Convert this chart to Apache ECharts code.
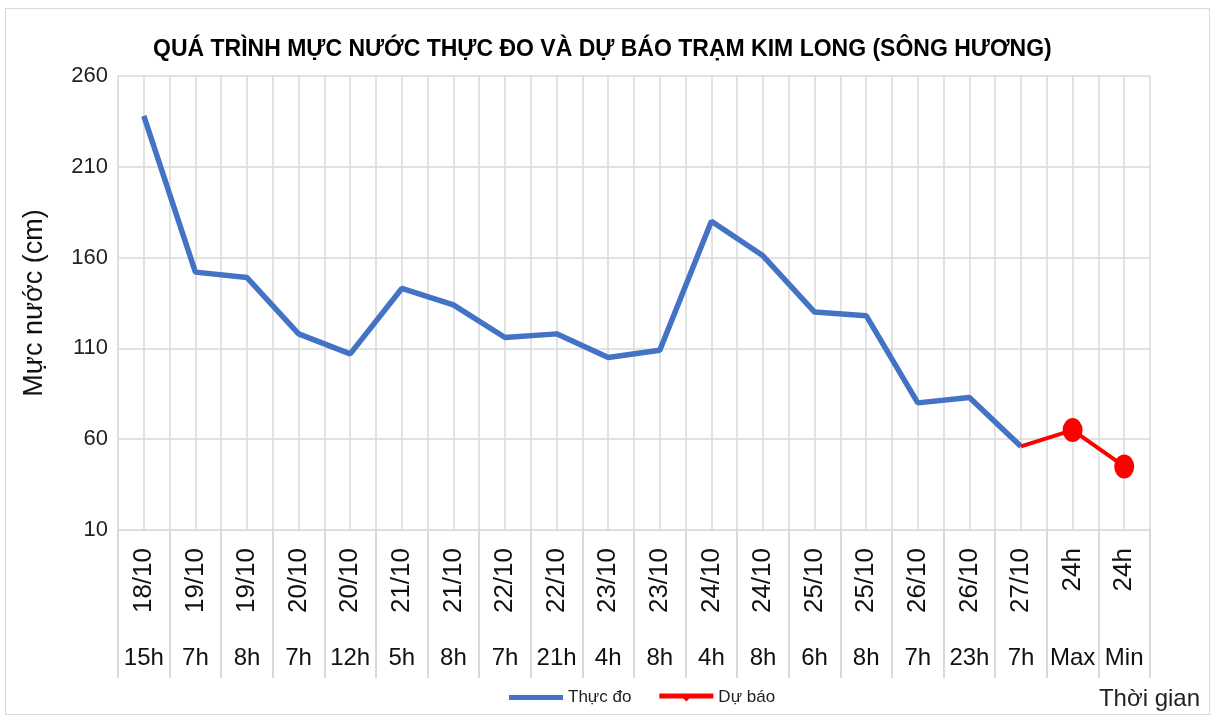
<!DOCTYPE html>
<html>
<head>
<meta charset="utf-8">
<script src="https://cdn.jsdelivr.net/npm/echarts@6/dist/echarts.min.js"></script>
<style>
  html, body { margin: 0; padding: 0; background: #fff; }
  #frame {
    position: absolute; left: 5px; top: 8px; width: 1205px; height: 707px;
    border: 1px solid #d9d9d9; box-sizing: border-box;
  }
  #chart { position: absolute; left: 0; top: 0; width: 1217px; height: 717px; }
</style>
</head>
<body>
<div id="frame"></div>
<div id="chart"></div>
<script>
const dateLabels = [
  "18/10", "19/10", "19/10", "20/10", "20/10", "21/10", "21/10",
  "22/10", "22/10", "23/10", "23/10", "24/10", "24/10", "25/10",
  "25/10", "26/10", "26/10", "27/10", "24h", "24h",
];

const hourLabels = [
  "15h", "7h", "8h", "7h", "12h", "5h", "8h", "7h", "21h", "4h",
  "8h", "4h", "8h", "6h", "8h", "7h", "23h", "7h", "Max", "Min",
];

const observed = [
  238, 152, 149, 118, 107, 143, 134, 116, 118, 105,
  109, 180, 161, 130, 128, 80, 83, 56,
];

const forecast = [65, 45];

const yTicks = { min: 10, max: 260, step: 50 };

const FONT = "'Liberation Sans', Arial, sans-serif";
const GRID_COLOR = "#d9d9d9";

const categoryKeys = dateLabels.map((d, i) => i);

const observedData = categoryKeys.map((i) => {
  return i < observed.length ? observed[i] : "-";
});

const lastIndex = observed.length - 1;

// forecast line starts from the last observed point
const forecastData = categoryKeys.map((i) => {
  if (i === lastIndex) {
    return { value: observed[lastIndex], symbol: "none" };
  }
  if (i > lastIndex) {
    return forecast[i - lastIndex - 1];
  }
  return "-";
});

const chart = echarts.init(document.getElementById("chart"));

chart.setOption({
  animation: false,
  textStyle: { fontFamily: FONT },
  title: {
    text: "QUÁ TRÌNH MỰC NƯỚC THỰC ĐO VÀ DỰ BÁO TRẠM KIM LONG (SÔNG HƯƠNG)",
    left: 148,
    top: 33,
    textStyle: {
      fontFamily: FONT,
      fontSize: 23,
      fontWeight: "bold",
      color: "#000",
    },
  },
  legend: {
    bottom: 6,
    left: 504,
    itemWidth: 54,
    itemHeight: 10,
    itemGap: 28,
    textStyle: { fontSize: 17, color: "#222", fontFamily: FONT },
    data: [
      {
        name: "Thực đo",
        icon: "path://M0,4 L54,4 L54,9 L0,9 Z",
        itemStyle: { color: "#4472c4" },
      },
      {
        name: "Dự báo",
        icon: "path://M0,4 L54,4 L54,9 L30,9 L27,12 L24,9 L0,9 Z",
        itemStyle: { color: "#ff0000" },
      },
    ],
  },
  graphic: [
    {
      type: "text",
      right: 17,
      bottom: 6,
      style: {
        text: "Thời gian",
        fontSize: 24,
        fontFamily: FONT,
        fill: "#222",
      },
    },
  ],
  grid: {
    left: 118,
    right: 67,
    top: 76,
    bottom: 187,
  },
  xAxis: [
    {
      type: "category",
      data: dateLabels,
      boundaryGap: true,
      axisLine: { lineStyle: { color: GRID_COLOR, width: 1 } },
      axisTick: {
        show: true,
        interval: 0,
        length: 148,
        lineStyle: { color: GRID_COLOR, width: 2 },
      },
      axisLabel: {
        interval: 0,
        rotate: 90,
        margin: 18,
        fontSize: 26,
        color: "#111",
        fontFamily: FONT,
      },
      splitLine: { show: false },
    },
    {
      type: "category",
      data: hourLabels,
      boundaryGap: true,
      position: "bottom",
      axisLine: { show: false },
      axisTick: { show: false },
      axisLabel: {
        interval: 0,
        margin: 116,
        fontSize: 24,
        color: "#111",
        fontFamily: FONT,
      },
    },
    {
      // helper axis: vertical gridlines at every half category
      type: "value",
      min: 0,
      max: dateLabels.length * 2,
      interval: 1,
      show: true,
      axisLine: { show: false },
      axisTick: { show: false },
      axisLabel: { show: false },
      splitLine: { show: true, lineStyle: { color: GRID_COLOR, width: 1.5 } },
    },
  ],
  yAxis: {
    type: "value",
    min: yTicks.min,
    max: yTicks.max,
    interval: yTicks.step,
    name: "Mực nước (cm)",
    nameLocation: "middle",
    nameGap: 70,
    nameTextStyle: { fontSize: 27, color: "#111", fontFamily: FONT },
    axisLine: { show: true, lineStyle: { color: GRID_COLOR } },
    axisTick: { show: false },
    axisLabel: { fontSize: 22, color: "#222", margin: 10, fontFamily: FONT },
    splitLine: { show: true, lineStyle: { color: GRID_COLOR, width: 1.5 } },
  },
  series: [
    {
      name: "Thực đo",
      type: "line",
      data: observedData,
      symbol: "none",
      lineStyle: { color: "#4472c4", width: 5.5 },
      itemStyle: { color: "#4472c4" },
      z: 3,
    },
    {
      name: "Dự báo",
      type: "line",
      data: forecastData,
      symbol: "circle",
      symbolSize: [20, 24],
      lineStyle: { color: "#ff0000", width: 4 },
      itemStyle: { color: "#ff0000" },
      z: 4,
    },
  ],
});
</script>
</body>
</html>
